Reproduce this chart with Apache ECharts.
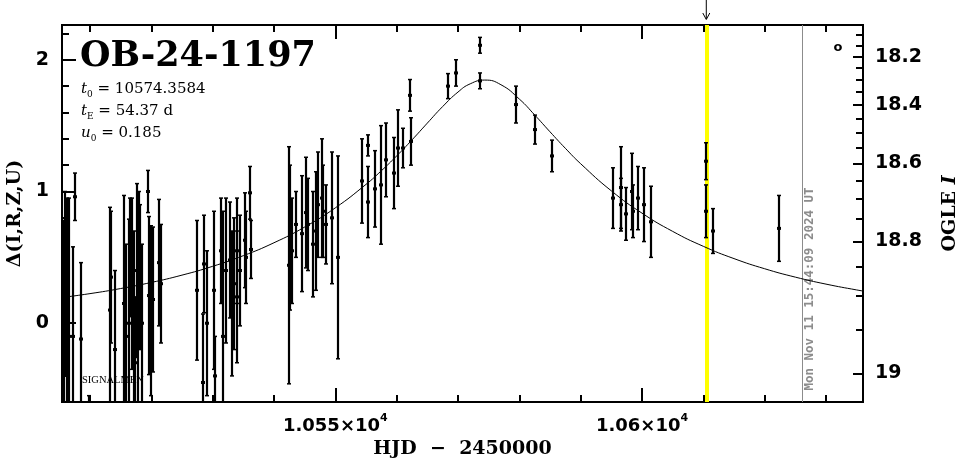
<!DOCTYPE html>
<html><head><meta charset="utf-8">
<script src="https://cdn.jsdelivr.net/npm/echarts@6.0.0/dist/echarts.min.js"></script>
<style>html,body{margin:0;padding:0;background:#fff}#c{width:965px;height:459px}</style>
</head><body><div id="c"></div>
<script>
// ---- data (HJD - 2450000, delta, error) ----
const hjd = [10505.7,10505.9,10506.2,10506.5,10507.3,10507.6,10508.6,10509.9,10513.3,10513.5,10514.0,10515.6,10515.9,10516.3,10516.6,10516.9,10517.2,10517.4,10517.6,10517.9,10518.0,10518.2,10518.5,10519.5,10519.6,10519.9,10520.0,10520.3,10521.3,10521.5,
  10527.5,10528.5,10528.6,10529.0,10530.2,10530.4,10531.3,10531.7,10532.2,10532.9,10533.2,10533.5,10533.9,10534.0,10534.5,10535.2,10535.5,10536.1,10536.2,
  10542.5,10542.6,10543.0,10543.6,10544.5,10545.3,10545.5,10546.4,10546.8,10547.2,10547.9,10548.0,10548.5,10549.5,10550.5,
  10554.4,10555.4,10555.4,10556.4,10557.5,10558.3,10559.5,10560.3,10561.1,10562.2,10562.3,
  10568.4,10569.6,10573.6,10573.6,10579.5,10582.6,10585.4,
  10595.3,10596.5,10596.6,10597.4,10598.4,10598.5,10599.4,10600.4,10601.4,
  10610.5,10610.5,10611.5,10622.4];
const delta = [-0.02,0.30,0.17,-0.10,-0.10,0.96,-0.12,-0.85,0.10,0.35,-0.20,0.15,-0.10,0.00,0.50,0.30,-0.05,-0.30,0.40,0.10,0.60,0.35,0.00,1.00,0.21,0.36,-0.10,0.18,0.46,0.30,
  0.25,-0.45,0.45,0.00,0.25,-0.40,0.55,-0.10,0.40,0.48,0.15,0.30,0.55,0.20,0.40,0.63,0.50,0.99,0.56,
  0.44,0.65,0.55,0.75,0.68,0.84,0.75,0.60,0.70,0.90,0.95,0.85,0.75,0.80,0.50,
  1.08,0.92,1.35,1.02,1.05,1.24,1.14,1.33,1.33,1.73,1.38,
  1.80,1.90,1.84,2.11,1.66,1.47,1.27,
  0.95,1.03,0.90,0.83,1.00,0.85,0.95,0.90,0.77,
  1.23,0.85,0.70,0.72];
const err = [0.80,0.70,0.78,1.05,0.68,0.18,0.58,0.30,0.78,0.50,0.60,0.82,0.70,0.79,0.45,0.65,0.75,0.50,0.66,0.80,0.40,0.55,0.60,0.16,0.60,0.38,0.45,0.55,0.48,0.45,
  0.53,0.52,0.37,0.55,0.60,0.30,0.40,0.95,0.55,0.44,0.55,0.50,0.40,0.50,0.42,0.36,0.35,0.20,0.22,
  0.90,0.55,0.40,0.25,0.44,0.42,0.35,0.40,0.45,0.40,0.45,0.35,0.30,0.50,0.77,
  0.32,0.27,0.08,0.29,0.45,0.28,0.27,0.29,0.15,0.12,0.18,
  0.095,0.10,0.06,0.06,0.14,0.11,0.12,
  0.23,0.31,0.20,0.20,0.29,0.20,0.24,0.28,0.27,
  0.14,0.20,0.17,0.25];
// model curve
const modelHjd = [10505,10510,10515,10520,10525,10530,10535,10540,10545,10550,10555,10557.5,10560,10562.5,10565,10567.5,10570,10572,10574.36,10577,10580,10582.5,10585,10587.5,10590,10595,10600,10605,10610,10615,10620,10625,10630,10635,10637];
const modelDelta = [0.1924,0.2247,0.2633,0.3096,0.3651,0.4320,0.5128,0.6109,0.7302,0.8759,1.0541,1.1572,1.2700,1.3916,1.5191,1.6449,1.7550,1.8176,1.8459,1.8106,1.7017,1.5812,1.4533,1.3282,1.2109,1.0050,0.8357,0.6973,0.5838,0.4906,0.4136,0.3499,0.2969,0.2527,0.2372];
// ticks
const xMajorTicks = [10550, 10600];
const xMinorTicks = [10510,10520,10530,10540,10560,10570,10580,10590,10610,10620,10630];
const leftMajorTicks = [0, 1, 2];
const leftMinorTicks = [-0.4,-0.2,0.2,0.4,0.6,0.8,1.2,1.4,1.6,1.8,2.2];
const magMajor = [18.2, 18.4, 18.6, 18.8, 19];
const magLabels = ['18.2', '18.4', '18.6', '18.8', '19'];
const magMinor = [18.1,18.15,18.25,18.3,18.35,18.45,18.5,18.55,18.65,18.7,18.75,18.85,18.9,18.95];
const xMin = 10505.44, xMax = 10636.03, yMin = -0.598, yMax = 2.264;
const yellowT = 10610.48, grayT = 10626.18;
const titleText = 'OB-24-1197';
const dateText = 'Mon Nov 11 15:44:09 2024 UT';

// OGLE I magnitude -> delta axis value (secondary scale)
function magToDelta(m) {
  const F = Math.pow(10, -0.4 * (m - 19));
  return 2.5 * Math.log10((F - 0.8664) / 0.1336) - 0.38;
}
const magMajorPos = magMajor.map(magToDelta);
const magMinorPos = magMinor.map(magToDelta);

const BLK = '#000';
const lineS = {color: BLK, width: 2};
const SANS = '"DejaVu Sans"';
const SERIF = '"DejaVu Serif"';

function xAx(pos, ticks, len, withLabel) {
  const a = {
    type: 'value', position: pos, min: xMin, max: xMax, gridIndex: 0,
    axisLine: {show: true, onZero: false, lineStyle: lineS},
    axisTick: {show: true, inside: true, length: len, customValues: ticks, lineStyle: lineS},
    axisLabel: {show: false},
    splitLine: {show: false}
  };
  if (withLabel) {
    a.axisLabel = {
      show: true, customValues: ticks, margin: 11, color: BLK,
      formatter: v => '{a|' + (v / 1e4) + '×10}{s|4}',
      rich: {
        a: {fontFamily: SANS, fontWeight: 'bold', fontSize: 18, lineHeight: 22, color: BLK, verticalAlign: 'bottom'},
        s: {fontFamily: SANS, fontWeight: 'bold', fontSize: 11, lineHeight: 12, color: BLK, verticalAlign: 'top'}
      }
    };
    a.name = 'HJD  −  2450000';
    a.nameLocation = 'middle';
    a.nameGap = 37;
    a.nameTextStyle = {fontFamily: SERIF, fontWeight: 'bold', fontSize: 19, color: BLK};
  }
  return a;
}
function yAx(pos, ticks, len, label) {
  const a = {
    type: 'value', position: pos, min: yMin, max: yMax, gridIndex: 0,
    axisLine: {show: true, onZero: false, lineStyle: lineS},
    axisTick: {show: true, inside: true, length: len, customValues: ticks, lineStyle: lineS},
    axisLabel: {show: false},
    splitLine: {show: false}
  };
  if (label) Object.assign(a, label);
  return a;
}

const option = {
  animation: false,
  backgroundColor: '#fff',
  grid: {left: 62, right: 102, top: 25, bottom: 57, containLabel: false, outerBoundsMode: 'none'},
  xAxis: [
    xAx('bottom', xMajorTicks, 14, true),
    xAx('bottom', xMinorTicks, 7, false),
    xAx('top', xMajorTicks, 14, false),
    xAx('top', xMinorTicks, 7, false)
  ],
  yAxis: [
    yAx('left', leftMajorTicks, 14, {
      axisLabel: {show: true, customValues: leftMajorTicks, margin: 13, color: BLK,
        fontFamily: SANS, fontWeight: 'bold', fontSize: 19},
      name: 'Δ(I,R,Z,U)', nameLocation: 'middle', nameGap: 31, nameRotate: 90,
      nameTextStyle: {fontFamily: SERIF, fontWeight: 'bold', fontSize: 19, color: BLK}
    }),
    yAx('left', leftMinorTicks, 7, null),
    yAx('right', magMajorPos, 10, {
      axisLabel: {show: true, customValues: magMajorPos, margin: 12, color: BLK,
        fontFamily: SANS, fontWeight: 'bold', fontSize: 19,
        formatter: v => {
          let best = 0;
          magMajorPos.forEach((p, i) => { if (Math.abs(p - v) < Math.abs(magMajorPos[best] - v)) best = i; });
          return magLabels[best];
        }},
      name: '{b|OGLE }{i|I}', nameLocation: 'middle', nameGap: 78, nameRotate: 90,
      nameTextStyle: {color: BLK, rich: {
        b: {fontFamily: SERIF, fontWeight: 'bold', fontSize: 19, color: BLK},
        i: {fontFamily: SERIF, fontWeight: 'bold', fontStyle: 'italic', fontSize: 19, color: BLK}
      }}
    }),
    yAx('right', magMinorPos, 7, null)
  ],
  series: [
    {
      type: 'line', xAxisIndex: 0, yAxisIndex: 0, z: 1, zlevel: 0,
      data: [], showSymbol: false,
      markLine: {
        silent: true, symbol: 'none', animation: false, z: 1,
        label: {show: false},
        data: [
          {xAxis: yellowT, lineStyle: {color: '#ffff00', width: 4, type: 'solid'}},
          {xAxis: grayT, lineStyle: {color: '#8c8c8c', width: 1, type: 'solid'}}
        ]
      }
    },
    {
      type: 'line', xAxisIndex: 0, yAxisIndex: 0, z: 2,
      data: modelHjd.map((t, i) => [t, modelDelta[i]]),
      showSymbol: false, smooth: true, clip: true,
      lineStyle: {color: BLK, width: 1}
    },
    {
      type: 'custom', xAxisIndex: 0, yAxisIndex: 0, z: 5,
      data: hjd.map((t, i) => [t, delta[i], err[i]]),
      renderItem: function (params, api) {
        const t = api.value(0), d = api.value(1), e = api.value(2);
        const top = api.coord([t, d + e]);
        const bot = api.coord([t, d - e]);
        const mid = api.coord([t, d]);
        const cs = params.coordSys;
        const y0 = cs.y, y1 = cs.y + cs.height;
        const x = Math.round(top[0]);
        const ya = Math.max(top[1], y0), yb = Math.min(bot[1], y1);
        const ch = [];
        if (yb > ya) ch.push({type: 'line', shape: {x1: x, y1: ya, x2: x, y2: yb}, style: {stroke: BLK, lineWidth: 2.2}});
        if (top[1] >= y0) ch.push({type: 'line', shape: {x1: x - 2, y1: top[1], x2: x + 2, y2: top[1]}, style: {stroke: BLK, lineWidth: 1.5}});
        if (bot[1] <= y1) ch.push({type: 'line', shape: {x1: x - 2, y1: bot[1], x2: x + 2, y2: bot[1]}, style: {stroke: BLK, lineWidth: 1.5}});
        if (mid[1] >= y0 && mid[1] <= y1) ch.push({type: 'rect', shape: {x: x - 2, y: mid[1] - 1.5, width: 4, height: 3}, style: {fill: BLK}});
        return {type: 'group', children: ch};
      }
    }
  ],
  graphic: [
    {type: 'text', x: 80, y: 57, style: {text: titleText, font: 'bold 35px ' + SERIF, fill: BLK, verticalAlign: 'middle'}},
    {type: 'text', x: 81, y: 79, style: {text: '{i|t}{s|0} = 10574.3584', rich: {
      i: {fontFamily: SERIF, fontStyle: 'italic', fontSize: 15, lineHeight: 20, verticalAlign: 'middle', fill: BLK},
      s: {fontFamily: SERIF, fontSize: 9, lineHeight: 20, verticalAlign: 'bottom', fill: BLK}
    }, font: '15px ' + SERIF, fill: BLK}},
    {type: 'text', x: 81, y: 101, style: {text: '{i|t}{s|E} = 54.37 d', rich: {
      i: {fontFamily: SERIF, fontStyle: 'italic', fontSize: 15, lineHeight: 20, verticalAlign: 'middle', fill: BLK},
      s: {fontFamily: SERIF, fontSize: 9, lineHeight: 20, verticalAlign: 'bottom', fill: BLK}
    }, font: '15px ' + SERIF, fill: BLK}},
    {type: 'text', x: 81, y: 123, style: {text: '{i|u}{s|0} = 0.185', rich: {
      i: {fontFamily: SERIF, fontStyle: 'italic', fontSize: 15, lineHeight: 20, verticalAlign: 'middle', fill: BLK},
      s: {fontFamily: SERIF, fontSize: 9, lineHeight: 20, verticalAlign: 'bottom', fill: BLK}
    }, font: '15px ' + SERIF, fill: BLK}},
    {type: 'text', x: 82, y: 380, z: 1, style: {text: 'SIGNALMEN', font: '10.5px "Liberation Serif"', fill: BLK, verticalAlign: 'middle'}},
    {type: 'text', x: 838, y: 48, style: {text: 'o', font: 'bold 13px ' + SANS, fill: BLK, align: 'center', verticalAlign: 'middle'}}
  ]
};

const chart = echarts.init(document.getElementById('c'));
chart.setOption(option);
const ax = chart.convertToPixel({xAxisIndex: 0}, yellowT);
const gx = chart.convertToPixel({xAxisIndex: 0}, grayT);
chart.setOption({graphic: option.graphic.concat([
  {type: 'line', shape: {x1: ax, y1: 0, x2: ax, y2: 19}, style: {stroke: BLK, lineWidth: 1}},
  {type: 'polyline', shape: {points: [[ax - 3.5, 13], [ax, 19.5], [ax + 3.5, 13]]}, style: {stroke: BLK, lineWidth: 1, fill: null}},
  {type: 'text', x: gx + 7.5, y: 289, rotation: Math.PI / 2, style: {text: dateText, font: 'bold 12.5px "DejaVu Sans Mono"', fill: '#8c8c8c', align: 'center', verticalAlign: 'middle'}}
])}, {replaceMerge: ['graphic']});
</script>
</body></html>
